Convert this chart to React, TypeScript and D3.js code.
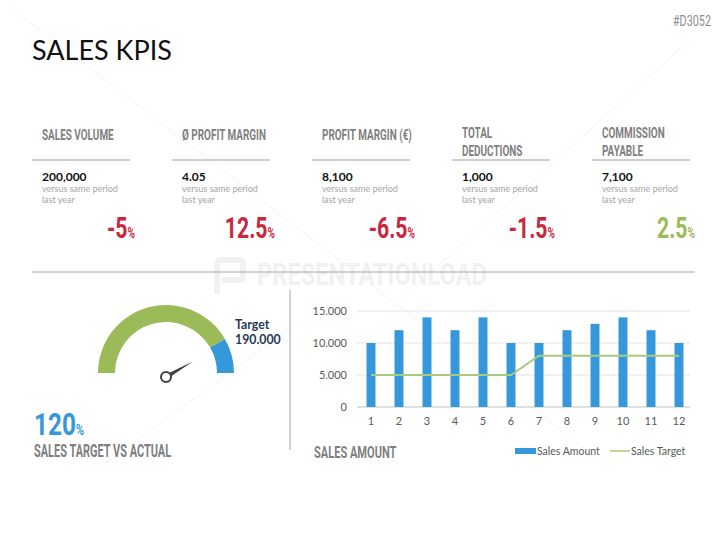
import * as d3 from 'd3';

// KPI row
const kpiTitles = [['SALES VOLUME'], ['Ø PROFIT MARGIN'], ['PROFIT MARGIN (€)'], ['TOTAL', 'DEDUCTIONS'], ['COMMISSION', 'PAYABLE']];
const kpiValues = [200000, 4.05, 8100, 1000, 7100];
const kpiChanges = [-5, 12.5, -6.5, -1.5, 2.5];
const kpiOnTrack = [false, false, false, false, true];

// gauge
const gaugeMax = 120;
const gaugeTarget = 100;
const gaugeActual = 120;
const targetValue = 190000;

// bar chart
const months = [1, 2, 3, 4, 5, 6, 7, 8, 9, 10, 11, 12];
const salesAmount = [10000, 12000, 14000, 12000, 14000, 10000, 10000, 12000, 13000, 14000, 12000, 10000];
const salesTarget = [5000, 5000, 5000, 5000, 5000, 5000, 8000, 8000, 8000, 8000, 8000, 8000];
const yTicks = [0, 5000, 10000, 15000];

const W = 727;
const H = 545;
const RED = '#c8283d';
const GREEN = '#9bbb59';
const BLUE = '#3498db';
const GREY = '#7f7f7f';

const deLocale = d3.formatLocale({ decimal: ',', thousands: '.', grouping: [3], currency: ['', '€'] });
const fmtDot = deLocale.format(',');
const fmtComma = d3.format(',');

// condensed headline text (Bebas-like look, squeezed Roboto)
function Cond({ x, y, size, fill, sx = 0.62, anchor = 'start', weight = 700, children }: any) {
  return (
    <text transform={`translate(${x},${y}) scale(${sx},1)`} fontFamily="Roboto" fontWeight={weight}
      fontSize={size} fill={fill} textAnchor={anchor}>{children}</text>
  );
}

export default function App() {
  // gauge
  const gx = 166, gy = 373;
  const angle = d3.scaleLinear().domain([0, gaugeMax]).range([-Math.PI / 2, Math.PI / 2]);
  const arc = d3.arc<any>().innerRadius(51).outerRadius(68);
  const greenArc = arc({ startAngle: angle(0), endAngle: angle(gaugeTarget) });
  const blueArc = arc({ startAngle: angle(gaugeTarget), endAngle: angle(gaugeMax) });
  const na = angle(gaugeTarget); // needle rests at the target mark
  const px = gx, py = 377;
  const tip = [px + 31 * Math.sin(na), py - 31 * Math.cos(na)];
  const side = (s: number) => [px + 2.2 * s * Math.cos(na), py + 2.2 * s * Math.sin(na)];
  const needle = `M${side(1).join(',')}L${tip.join(',')}L${side(-1).join(',')}Z`;

  // bar chart
  const x = d3.scaleBand<number>().domain(months).range([357, 693]).paddingInner(0.68).paddingOuter(0.34);
  const y = d3.scaleLinear().domain([0, 15000]).range([407, 311]);
  const cx = (m: number) => (x(m) as number) + x.bandwidth() / 2;
  const targetLine = d3.line<number>().x((_, i) => cx(months[i])).y(d => y(d))(salesTarget);

  return (
    <svg width={W} height={H} style={{ position: 'absolute', left: 0, top: 0, background: '#fff' }}>
      {/* faint watermark */}
      <g stroke="#f3f3f3" strokeWidth={1}>
        <line x1={10} y1={7} x2={610} y2={468} />
        <line x1={297} y1={323} x2={97} y2={470} />
        <line x1={690} y1={40} x2={400} y2={300} />
      </g>
      <g fill="none" stroke="#f1f1f1" strokeWidth={6}>
        <path d="M217,294 V264 Q217,260 221,260 H239 Q243,260 243,264 V276 Q243,280 239,280 H222" />
      </g>
      <Cond x={257} y={285} size={32} fill="#f1f1f1" sx={0.74}>PRESENTATIONLOAD</Cond>

      <text x={32} y={60} fontFamily="Lato" fontSize={27} fill="#111">SALES KPIS</text>
      <Cond x={711} y={26} size={15.5} fill="#8c8c8c" sx={0.7} weight={400} anchor="end">#D3052</Cond>

      {kpiTitles.map((lines, i) => {
        const x0 = 32 + i * 140;
        const two = lines.length > 1;
        return (
          <g key={i}>
            {lines.map((t, j) => (
              <Cond key={j} x={x0 + 10} y={two ? 138 + j * 18 : 140} size={15.3} fill={GREY} sx={0.65}>{t}</Cond>
            ))}
            <line x1={x0} x2={x0 + 98} y1={160} y2={160} stroke="#bfbfbf" strokeWidth={1.5} />
            <text x={x0 + 10} y={180.5} fontFamily="Lato" fontWeight={700} fontSize={12} fill="#111">
              {fmtComma(kpiValues[i])}
            </text>
            <text x={x0 + 10} y={192} fontFamily="Lato" fontSize={9} fill="#a6a6a6">versus same period</text>
            <text x={x0 + 10} y={203} fontFamily="Lato" fontSize={9} fill="#a6a6a6">last year</text>
            <Cond x={x0 + 103} y={238} size={29.5} fill={kpiOnTrack[i] ? GREEN : RED} sx={0.72} anchor="end">
              {String(kpiChanges[i])}<tspan fontSize={14}>%</tspan>
            </Cond>
          </g>
        );
      })}

      <line x1={32} x2={695} y1={272} y2={272} stroke="#a6a6a6" strokeWidth={1} />
      <line x1={290} x2={290} y1={290} y2={450} stroke="#d0d0d0" strokeWidth={2} />

      {/* gauge */}
      <g transform={`translate(${gx},${gy})`}>
        <path d={greenArc as string} fill={GREEN} />
        <path d={blueArc as string} fill={BLUE} />
      </g>
      <path d={needle} fill="#404040" />
      <circle cx={px} cy={py} r={5} fill="#fff" stroke="#404040" strokeWidth={2} />
      <text x={235} y={329} fontFamily="Lato" fontWeight={700} fontSize={12.3} fill="#253b56">Target</text>
      <text x={235} y={344} fontFamily="Lato" fontWeight={700} fontSize={12.3} fill="#253b56">{fmtDot(targetValue)}</text>
      <Cond x={34} y={435} size={32} fill={BLUE} sx={0.76}>
        {gaugeActual}<tspan fontSize={15}>%</tspan>
      </Cond>
      <Cond x={34} y={457} size={18} fill={GREY} sx={0.61}>SALES TARGET VS ACTUAL</Cond>

      {/* bar chart */}
      {yTicks.map(t => (
        <g key={t}>
          <line x1={357} x2={690} y1={y(t)} y2={y(t)} stroke={t === 0 ? '#bfbfbf' : '#e3e3e3'} strokeWidth={1} />
          <text x={347} y={y(t)} dy="0.35em" textAnchor="end" fontFamily="Lato" fontSize={11} fill="#595959">
            {fmtDot(t)}
          </text>
        </g>
      ))}
      {months.map((m, i) => (
        <g key={m}>
          <rect x={x(m)} y={y(salesAmount[i])} width={x.bandwidth()} height={y(0) - y(salesAmount[i])} fill={BLUE} />
          <text x={cx(m)} y={425} textAnchor="middle" fontFamily="Lato" fontSize={11} fill="#595959">{m}</text>
        </g>
      ))}
      <path d={targetLine as string} fill="none" stroke="#abc97c" strokeWidth={2} />

      <Cond x={314} y={458} size={17} fill={GREY} sx={0.65}>SALES AMOUNT</Cond>
      <rect x={515} y={448} width={21} height={6} fill={BLUE} />
      <text x={537} y={455} fontFamily="Lato" fontSize={10.5} fill="#595959">Sales Amount</text>
      <line x1={610} x2={630} y1={451} y2={451} stroke="#abc97c" strokeWidth={1.5} />
      <text x={631} y={455} fontFamily="Lato" fontSize={10.5} fill="#595959">Sales Target</text>
    </svg>
  );
}
